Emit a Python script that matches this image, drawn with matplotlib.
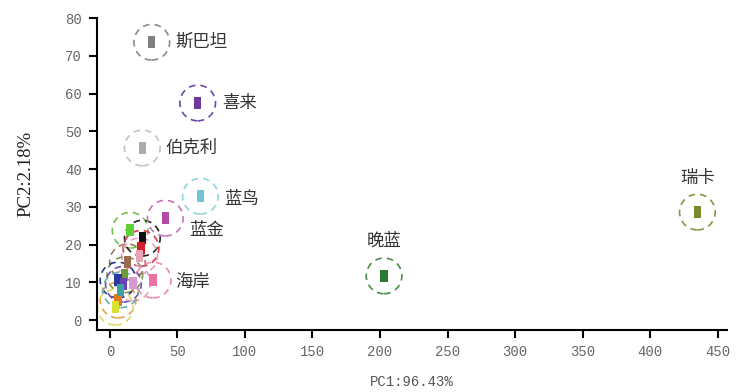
import matplotlib
matplotlib.use("Agg")
import matplotlib.pyplot as plt

plt.rcParams['font.family'] = ['Noto Sans CJK SC', 'DejaVu Sans']

# labelled cultivars
names = ['斯巴坦', '喜来', '伯克利', '蓝鸟', '蓝金', '海岸', '晚蓝', '瑞卡']
pc1 = [31, 65, 24, 67, 41, 32, 203, 435]
pc2 = [73.6, 57.5, 45.6, 32.8, 27, 10.6, 11.7, 28.6]
colors = ['#7f7f7f', '#6b3a9c', '#ababab', '#72c6d0', '#b04ba6', '#ea73a3', '#2f7a33', '#7d8a2b']
rings = ['#8a8a8a', '#6b4aa0', '#c4c4c4', '#8fd3dc', '#c872bb', '#f08ab2', '#4a8c4a', '#8a9440']
# label offsets in pixels
offs = [(24, 0), (24, 0), (23, 0), (24, -3), (24, -12), (22, -2), (0, 35), (0, 34)]

# unlabelled points crowded near the origin
c_pc1 = [15, 24, 23, 22, 13, 11, 6, 10, 17, 6, 4, 8]
c_pc2 = [23.8, 21.7, 19, 17, 15.4, 12, 10.6, 9.5, 9.8, 5.3, 3.4, 8]
c_colors = ['#5fcf3a', '#111111', '#d0202a', '#e8a3b8', '#9c6b4e', '#6f9a3a', '#2a3a9c', '#6a3fae', '#d79ad0', '#e07a20', '#d8e030', '#3aa0a0']
c_rings = ['#6cc24a', '#222222', '#d83a4a', '#e7a0b8', '#a07860', '#7a9a50', '#2c3c8c', '#7050b0', '#d9a0d0', '#e8a050', '#e0d860', '#60b0b0']

fig = plt.figure(figsize=(7.4, 3.92), dpi=100)
ax = fig.add_axes([0.131, 0.158, 0.851, 0.796])

rect = [(-0.55, -0.9), (0.55, -0.9), (0.55, 0.9), (-0.55, 0.9)]
dash = (0, (4, 3))

ax.scatter(c_pc1, c_pc2, s=660, facecolors='none', edgecolors=c_rings,
           linestyles=[dash], linewidths=1.2, zorder=2)
ax.scatter(c_pc1, c_pc2, s=75, marker=rect, c=c_colors, linewidths=0, zorder=3)

ax.scatter(pc1, pc2, s=660, facecolors='none', edgecolors=rings,
           linestyles=[dash], linewidths=1.2, zorder=2)
ax.scatter(pc1, pc2, s=75, marker=rect, c=colors, linewidths=0, zorder=3)

for n, x, y, o in zip(names, pc1, pc2, offs):
    ha = 'left' if o[0] else 'center'
    ax.annotate(n, (x, y), xytext=o, textcoords='offset pixels', ha=ha,
                va='center', fontsize=12.5, color='#333333')

ax.set_xlim(-9.6, 456.7)
ax.set_ylim(-2.65, 80)
ax.set_xticks(range(0, 451, 50))
ax.set_yticks(range(0, 81, 10))
for s in ['top', 'right']:
    ax.spines[s].set_visible(False)
for s in ['left', 'bottom']:
    ax.spines[s].set_linewidth(1.5)
ax.tick_params(direction='out', length=6, width=1.5, pad=5, labelsize=10,
               labelcolor='#666666', labelfontfamily='Liberation Mono')
ax.set_xlabel('PC1:96.43%', fontsize=10, color='#555555', family='Liberation Mono', labelpad=11)
ax.set_ylabel('PC2:2.18%', fontsize=13.5, color='#222222', family='Liberation Serif', labelpad=22)

fig.savefig('out.png', dpi=100)
